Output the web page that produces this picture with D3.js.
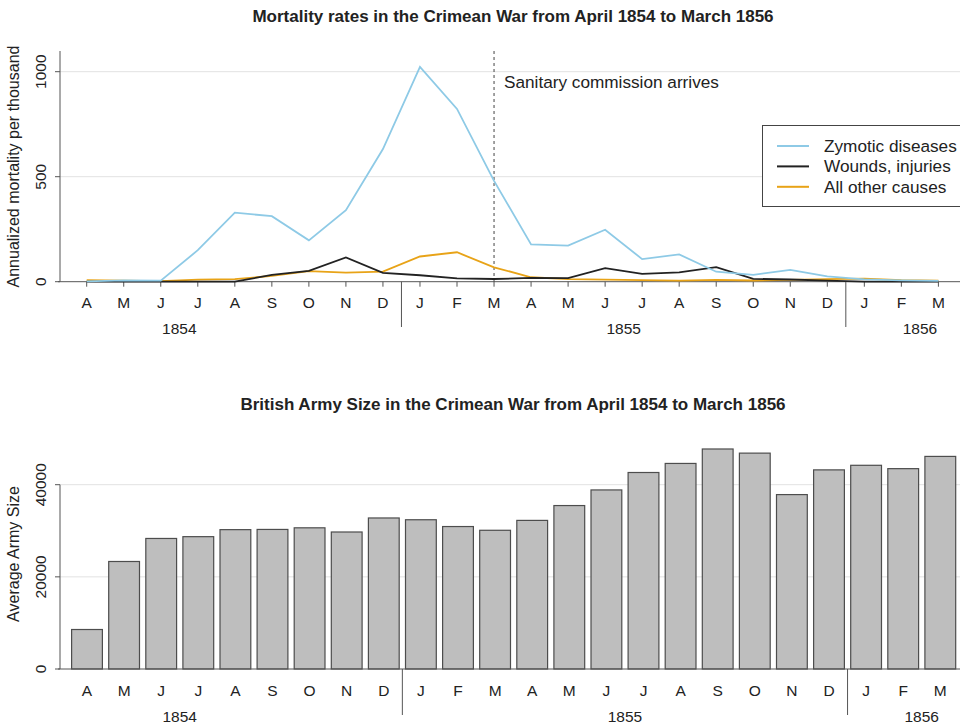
<!DOCTYPE html>
<html><head><meta charset="utf-8">
<script src="https://cdn.jsdelivr.net/npm/d3@7"></script>
<style>body{margin:0;background:#fff}svg{display:block}text{font-family:"Liberation Sans",Arial,sans-serif;fill:#222}</style>
</head><body>
<script>
const months = ["A","M","J","J","A","S","O","N","D","J","F","M","A","M","J","J","A","S","O","N","D","J","F","M"];
const years = [{label:"1854", pos:2.5},{label:"1855", pos:14.5},{label:"1856", pos:22.5}];
const yearBreaks = [8.5, 20.5];
const zymotic = [1.4,6.2,4.7,150,328.5,312.2,197,340.6,631.5,1022.8,822.8,480.3,177.5,171.8,247.6,107.5,129.9,47.5,32.8,56.4,25.3,11.4,6.6,3.9];
const wounds = [0,0,0,0,0.4,32.1,51.7,115.8,41.7,30.7,16.3,12.8,17.9,16.6,64.5,37.7,44.1,69.4,13.6,10.5,5.0,0.5,0,0];
const other = [7.0,4.6,2.5,9.6,11.9,27.7,50.1,42.8,48.0,120.0,140.1,68.6,21.2,12.5,9.6,7.2,5.4,8.9,5.6,8.4,12.1,15.0,6.8,5.1];
const armySize = [8571,23333,28333,28722,30246,30290,30643,29736,32779,32393,30919,30107,32252,35473,38863,42647,44614,47751,46852,37853,43217,44212,43485,46140];
const seriesNames = ["Zymotic diseases","Wounds, injuries","All other causes"];
const seriesColors = ["#8ecae6","#222222","#e8a317"];
const mortTicks = [0,500,1000];
const armyTicks = [0,20000,40000];

const W=960,H=726;
const svg=d3.select("body").append("svg").attr("width",W).attr("height",H);
const idx=d3.range(months.length);
const axisCol="#555", gridCol="#e2e2e2";

// ---------- Top chart ----------
const x1=d3.scaleLinear().domain([0,23]).range([86.7,938.4]);
const y1=d3.scaleLinear().domain([0,1000]).range([281.7,71.7]);
const g1=svg.append("g");
g1.append("text").attr("x",513).attr("y",22).attr("text-anchor","middle")
  .style("font-weight","bold").style("font-size","17px")
  .text("Mortality rates in the Crimean War from April 1854 to March 1856");
g1.selectAll(".grid").data(mortTicks.filter(d=>d>0)).join("line")
  .attr("x1",60).attr("x2",W).attr("y1",d=>y1(d)).attr("y2",d=>y1(d))
  .attr("stroke",gridCol).attr("stroke-width",1);
g1.append("line").attr("x1",60).attr("x2",60).attr("y1",51).attr("y2",y1(0)).attr("stroke",axisCol);
g1.selectAll(".yt").data(mortTicks).join("line").attr("x1",55).attr("x2",60)
  .attr("y1",d=>y1(d)).attr("y2",d=>y1(d)).attr("stroke",axisCol);
g1.selectAll(".yl").data(mortTicks).join("text")
  .attr("transform",d=>`translate(46,${y1(d)}) rotate(-90)`).attr("text-anchor","middle")
  .style("font-size","15.5px").text(d=>d);
g1.append("text").attr("transform","translate(19,166.5) rotate(-90)").attr("text-anchor","middle")
  .style("font-size","16px").text("Annualized mortality per thousand");
g1.append("line").attr("x1",58).attr("x2",W).attr("y1",y1(0)).attr("y2",y1(0)).attr("stroke",axisCol);
g1.selectAll(".xt").data(idx).join("line").attr("x1",d=>x1(d)).attr("x2",d=>x1(d))
  .attr("y1",y1(0)).attr("y2",y1(0)+5).attr("stroke",axisCol);
g1.selectAll(".xl").data(idx).join("text").attr("x",d=>x1(d)).attr("y",307.5)
  .attr("text-anchor","middle").style("font-size","15.5px").text(d=>months[d]);
g1.selectAll(".yr").data(years).join("text").attr("x",d=>x1(d.pos)).attr("y",334)
  .attr("text-anchor","middle").style("font-size","15.5px").text(d=>d.label);
g1.selectAll(".yb").data(yearBreaks).join("line").attr("x1",d=>x1(d)).attr("x2",d=>x1(d))
  .attr("y1",y1(0)).attr("y2",327).attr("stroke",axisCol);
g1.append("line").attr("x1",x1(11)).attr("x2",x1(11)).attr("y1",51).attr("y2",y1(0))
  .attr("stroke","#444").attr("stroke-dasharray","3,3");
g1.append("text").attr("x",504).attr("y",87.5).style("font-size","17.2px").text("Sanitary commission arrives");
const line=d3.line().x((d,i)=>x1(i)).y(d=>y1(d));
[[other,seriesColors[2]],[wounds,seriesColors[1]],[zymotic,seriesColors[0]]].forEach(([s,col])=>{
  g1.append("path").datum(s).attr("d",line).attr("fill","none").attr("stroke",col).attr("stroke-width",1.8);
});
const lg=g1.append("g");
lg.append("rect").attr("x",762.5).attr("y",125.5).attr("width",210).attr("height",81)
  .attr("fill","#fff").attr("stroke","#444");
seriesNames.forEach((n,i)=>{
  const yy=146+i*20.4;
  lg.append("line").attr("x1",777).attr("x2",809).attr("y1",yy).attr("y2",yy)
    .attr("stroke",seriesColors[i]).attr("stroke-width",2);
  lg.append("text").attr("x",824).attr("y",yy+6).style("font-size","17.2px").text(n);
});

// ---------- Bottom chart ----------
const x2=d3.scaleBand().domain(idx).range([68.45,958.85]).paddingInner(0.17).paddingOuter(0.085);
const y2=d3.scaleLinear().domain([0,40000]).range([669,484.7]);
const xc=d=>x2(d)+x2.bandwidth()/2;
const step=x2.step();
const xpos=p=>x2(0)+x2.bandwidth()/2+p*step;
const g2=svg.append("g");
g2.append("text").attr("x",513).attr("y",410).attr("text-anchor","middle")
  .style("font-weight","bold").style("font-size","17px")
  .text("British Army Size in the Crimean War from April 1854 to March 1856");
g2.selectAll(".grid").data(armyTicks.filter(d=>d>0)).join("line")
  .attr("x1",60).attr("x2",W).attr("y1",d=>y2(d)).attr("y2",d=>y2(d))
  .attr("stroke",gridCol).attr("stroke-width",1);
g2.selectAll(".bar").data(idx).join("rect")
  .attr("x",d=>x2(d)).attr("width",x2.bandwidth())
  .attr("y",d=>y2(armySize[d])).attr("height",d=>y2(0)-y2(armySize[d]))
  .attr("fill","#bebebe").attr("stroke","#4d4d4d").attr("stroke-width",1.2);
g2.append("line").attr("x1",60).attr("x2",60).attr("y1",y2(40000)).attr("y2",y2(0)).attr("stroke",axisCol);
g2.selectAll(".yt").data(armyTicks).join("line").attr("x1",55).attr("x2",60)
  .attr("y1",d=>y2(d)).attr("y2",d=>y2(d)).attr("stroke",axisCol);
g2.selectAll(".yl").data(armyTicks).join("text")
  .attr("transform",d=>`translate(46,${y2(d)}) rotate(-90)`).attr("text-anchor","middle")
  .style("font-size","15.5px").text(d=>d);
g2.append("text").attr("transform","translate(19,554) rotate(-90)").attr("text-anchor","middle")
  .style("font-size","16px").text("Average Army Size");
g2.append("line").attr("x1",58).attr("x2",W).attr("y1",y2(0)).attr("y2",y2(0)).attr("stroke",axisCol);
g2.selectAll(".xl").data(idx).join("text").attr("x",d=>xc(d)).attr("y",695.5)
  .attr("text-anchor","middle").style("font-size","15.5px").text(d=>months[d]);
g2.selectAll(".yr").data(years).join("text").attr("x",d=>xpos(d.pos)).attr("y",722)
  .attr("text-anchor","middle").style("font-size","15.5px").text(d=>d.label);
g2.selectAll(".yb").data(yearBreaks).join("line").attr("x1",d=>xpos(d)).attr("x2",d=>xpos(d))
  .attr("y1",y2(0)).attr("y2",715).attr("stroke",axisCol);
</script>
</body></html>
